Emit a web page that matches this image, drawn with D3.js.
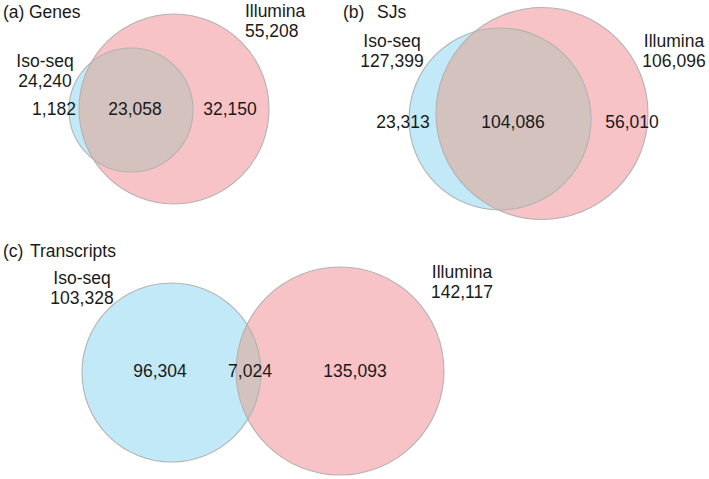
<!DOCTYPE html>
<html><head><meta charset="utf-8">
<script src="https://cdn.jsdelivr.net/npm/d3@7"></script>
<style>
body{margin:0;background:#fff}
text{font-family:"Liberation Sans",Arial,Helvetica,sans-serif;font-size:17.5px;fill:#1a1a1a}
</style>
</head><body><svg id="chart" width="709" height="479"></svg>
<script>
// ---- data ----
const panelTags = ["(a)", "(b)", "(c)"];
const panelTitles = ["Genes", "SJs", "Transcripts"];
const setNames = ["Iso-seq", "Illumina"];
const isoTotals = [24240, 127399, 103328];
const illTotals = [55208, 106096, 142117];
const isoOnly = [1182, 23313, 96304];
const shared = [23058, 104086, 7024];
const illOnly = [32150, 56010, 135093];

// ---- layout (pixels) ----
const layout = [
  {tag:[3,18], title:[29,18], iso:{cx:131,cy:110,r:62}, ill:{cx:174,cy:109,r:95},
   isoLab:[45,67,87], illLab:[245,17,37,"start"], regY:115, regX:[54,135,230]},
  {tag:[343,18], title:[377,18], iso:{cx:500,cy:119,r:91}, ill:{cx:542,cy:113.5,r:106},
   isoLab:[392,47,67], illLab:[674,47,67,"middle"], regY:128, regX:[403,513,632]},
  {tag:[3,257], title:[30,257], iso:{cx:171.5,cy:372.5,r:89.5}, ill:{cx:340,cy:371,r:104},
   isoLab:[82,284,304], illLab:[462,278,298,"middle"], regY:377, regX:[160,250,355]}
];
const colors = {iso:"#c2e9f7", ill:"#f7c3c6", both:"#d4c2bf", stroke:"#b3b3b3"};

const fmt = d3.format(",");
const svg = d3.select("#chart");
const defs = svg.append("defs");

function twoLine(g, x, y1, y2, anchor, a, b) {
  const t = g.append("text").attr("text-anchor", anchor);
  t.append("tspan").attr("x", x).attr("y", y1).text(a);
  t.append("tspan").attr("x", x).attr("y", y2).text(b);
}

layout.forEach((L, i) => {
  const g = svg.append("g");
  defs.append("clipPath").attr("id","clip"+i)
    .append("circle").attr("cx",L.iso.cx).attr("cy",L.iso.cy).attr("r",L.iso.r);

  g.append("circle").attr("cx",L.iso.cx).attr("cy",L.iso.cy).attr("r",L.iso.r)
    .attr("fill",colors.iso);
  g.append("circle").attr("cx",L.ill.cx).attr("cy",L.ill.cy).attr("r",L.ill.r)
    .attr("fill",colors.ill);
  g.append("circle").attr("cx",L.ill.cx).attr("cy",L.ill.cy).attr("r",L.ill.r)
    .attr("fill",colors.both).attr("clip-path","url(#clip"+i+")");
  [L.iso, L.ill].forEach(c => g.append("circle").attr("cx",c.cx).attr("cy",c.cy).attr("r",c.r)
    .attr("fill","none").attr("stroke",colors.stroke).attr("stroke-width",1.1));

  const head = g.append("text");
  head.append("tspan").attr("x",L.tag[0]).attr("y",L.tag[1]).text(panelTags[i]);
  head.append("tspan").attr("x",L.title[0]).attr("y",L.title[1]).text(panelTitles[i]);

  twoLine(g, L.isoLab[0], L.isoLab[1], L.isoLab[2], "middle", setNames[0], fmt(isoTotals[i]));
  twoLine(g, L.illLab[0], L.illLab[1], L.illLab[2], L.illLab[3], setNames[1], fmt(illTotals[i]));

  [isoOnly[i], shared[i], illOnly[i]].forEach((v, k) => {
    g.append("text").attr("x",L.regX[k]).attr("y",L.regY).attr("text-anchor","middle").text(fmt(v));
  });
});
</script>
</body></html>
